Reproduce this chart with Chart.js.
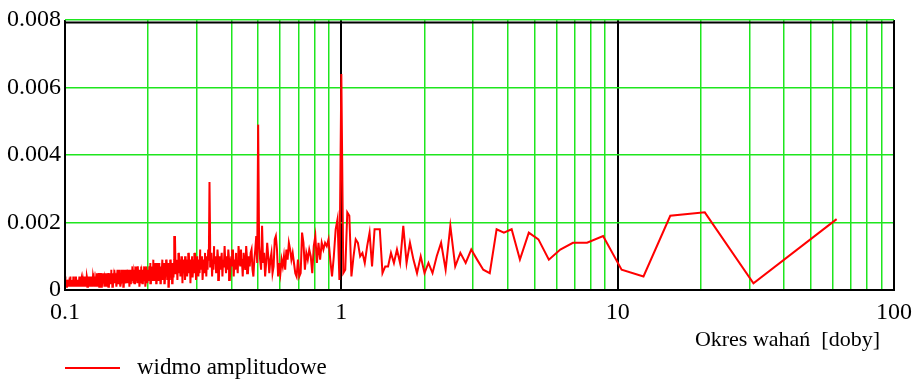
<!DOCTYPE html>
<html lang="pl">
<head>
<meta charset="utf-8">
<title>Widmo amplitudowe</title>
<script src="https://cdn.jsdelivr.net/npm/chart.js@4.4.1/dist/chart.umd.min.js"></script>
<style>
  html, body { margin: 0; padding: 0; background: #fff; }
  canvas { display: block; }
</style>
</head>
<body>
<canvas id="spectrum" width="920" height="380"></canvas>
<script>
// Length of the record in days; harmonic k has period RECORD_DAYS / k.
const RECORD_DAYS = 62;

// Amplitude of harmonics k = 1, 2, 3, ... in units of 1e-4.
const amplitudeE4 = [
  21, 2, 23, 22, 4, 6, 16, 14, 14, 12,
  9, 15, 17, 9, 18, 17, 18, 5, 6, 9,
  12, 8, 11, 7, 19, 6, 14, 10, 5, 8,
  5, 10, 5, 9, 14, 8, 19, 8, 12, 8,
  11, 7, 7, 5, 18, 18, 18, 7, 17, 13,
  8, 11, 10, 14, 15, 10, 4, 22, 23, 6,
  5, 64, 3, 21, 18, 10, 4, 9, 15, 13,
  14, 12, 14, 9, 14, 8, 16, 13, 5, 10,
  12, 9, 11, 6, 14, 17, 5, 4, 9, 4,
  5, 8, 11, 9, 12, 14, 9, 12, 6, 10,
  7, 9, 5, 8, 4, 12, 16, 15, 7, 5,
  11, 9, 5, 10, 14, 8, 4, 11, 8, 19,
  6, 9, 13, 49, 8, 16, 12, 9, 4, 6,
  12, 11, 7, 10, 5, 9, 13, 6, 8, 11,
  4, 9, 12, 7, 10, 13, 5, 8, 11, 6,
  9, 4, 12, 7, 10, 8, 3, 9, 12, 6,
  10, 5, 8, 13, 7, 9, 4, 11, 8, 6,
  10, 3, 9, 12, 7, 5, 10, 8, 13, 6,
  9, 4, 11, 7, 14, 32, 9, 12, 6, 10,
  4, 8, 11, 5, 9, 7, 3, 10, 6, 8,
  12, 5, 9, 4, 7, 10, 6, 3, 8, 11,
  5, 9, 7, 4, 10, 6, 8, 2, 9, 7,
  11, 5, 8, 4, 9, 6, 10, 3, 7, 9,
  5, 8, 2, 10, 6, 8, 4, 9, 7, 11,
  5, 8, 3, 7, 9, 5, 8, 16, 6, 9,
  4, 7, 2, 8, 5, 3, 9, 6, 4, 7,
  1, 8, 5, 6, 3, 9, 4, 7, 5, 2,
  8, 6, 4, 7, 3, 9, 5, 6, 2, 7,
  4, 8, 5, 3, 6, 8, 4, 7, 2, 6,
  5, 8, 3, 7, 4, 6, 9, 3, 5, 7,
  4, 6, 2, 8, 5, 4, 7, 3, 6, 5,
  4, 6, 2, 5, 7, 3, 5, 1, 6, 4,
  7, 3, 5, 2, 6, 4, 5, 7, 2, 4,
  6, 3, 5, 1, 6, 4, 3, 7, 5, 2,
  4, 6, 3, 5, 7, 2, 4, 5, 3, 6,
  2, 5, 4, 7, 3, 4, 6, 2, 5, 3,
  6, 4, 1, 5, 3, 6, 4, 2, 5, 6,
  3, 4, 3, 5, 2, 6, 4, 3, 5, 1,
  4, 6, 3, 2, 5, 4, 3, 6, 2, 4,
  5, 1, 3, 6, 4, 2, 5, 3, 4, 6,
  2, 3, 5, 4, 1, 3, 5, 2, 4, 6,
  3, 2, 4, 5, 3, 1, 4, 5, 2, 3,
  6, 4, 2, 3, 5, 4, 2, 3, 5, 1,
  4, 3, 5, 2, 3, 4, 2, 5, 3, 1,
  4, 3, 5, 2, 3, 4, 1, 3, 5, 2,
  4, 3, 2, 5, 3, 1, 4, 2, 3, 5,
  2, 4, 3, 1, 3, 4, 2, 5, 3, 2,
  4, 1, 3, 4, 2, 3, 5, 2, 3, 1,
  4, 3, 2, 4, 3, 1, 3, 5, 2, 3,
  4, 2, 1, 3, 4, 2, 2, 3, 1, 4,
  2, 3, 1, 3, 2, 4, 1, 2, 3, 2,
  4, 1, 3, 2, 1, 3, 4, 2, 1, 3,
  2, 4, 2, 1, 3, 2, 3, 1, 4, 2,
  3, 1, 2, 3, 2, 4, 1, 2, 3, 1,
  2, 4, 2, 3, 1, 2, 3, 2, 1, 3,
  4, 2, 1, 3, 2, 1, 3, 2, 2, 1,
  3, 2, 1, 3, 2, 4, 1, 2, 3, 1,
  2, 3, 2, 1, 3, 2, 4, 1, 2, 1,
  3, 2, 1, 3, 2, 1, 2, 3, 1, 2,
  3, 1, 2, 4, 2, 1, 3, 2, 1, 2,
  3, 1, 2, 1, 3, 2, 1, 2, 3, 1,
  2, 1, 3, 2, 1, 4, 2, 1, 3, 4
];

// Period grid lines (days); whole decades are drawn black and labelled.
const periodGrid = [
  0.1, 0.2, 0.3, 0.4, 0.5, 0.6, 0.7, 0.8, 0.9,
  1, 2, 3, 4, 5, 6, 7, 8, 9,
  10, 20, 30, 40, 50, 60, 70, 80, 90,
  100
];
const amplitudeTicks = [0, 0.002, 0.004, 0.006, 0.008];

const AXIS_TITLE = 'Okres wahań  [doby]';
const SERIES_LABEL = 'widmo amplitudowe';

const SERIF = '"Liberation Serif", "Times New Roman", serif';
const TICK_FONT = { family: SERIF, size: 24 };
const GRID_GREEN = '#1ee61e';
const LINE_RED = '#ff0000';

const isDecade = v => Math.abs(Math.log10(v) - Math.round(Math.log10(v))) < 1e-9;

const points = amplitudeE4.map((a, i) => ({ x: RECORD_DAYS / (i + 1), y: a / 1e4 }));

// Black frame plus the legend and axis caption under the plot.
const framePlugin = {
  id: 'frame',
  afterDatasetsDraw(chart) {
    const { ctx, chartArea: a } = chart;
    ctx.save();
    ctx.strokeStyle = '#000';
    ctx.lineWidth = 2;
    ctx.beginPath();
    ctx.moveTo(a.left, a.top + 2.5);
    ctx.lineTo(a.right, a.top + 2.5);
    ctx.lineTo(a.right, a.bottom);
    ctx.lineTo(a.left, a.bottom);
    ctx.closePath();
    ctx.stroke();
    ctx.restore();
  },
  afterDraw(chart) {
    const { ctx, chartArea: a } = chart;
    ctx.save();
    ctx.fillStyle = '#000';
    ctx.textBaseline = 'middle';
    ctx.font = `22px ${SERIF}`;
    ctx.textAlign = 'right';
    ctx.fillText(AXIS_TITLE, a.right - 14, 340);

    ctx.strokeStyle = LINE_RED;
    ctx.lineWidth = 2;
    ctx.beginPath();
    ctx.moveTo(a.left, 368);
    ctx.lineTo(a.left + 55, 368);
    ctx.stroke();
    ctx.font = `23px ${SERIF}`;
    ctx.textAlign = 'left';
    ctx.fillText(SERIES_LABEL, a.left + 72, 368);
    ctx.restore();
  }
};

new Chart(document.getElementById('spectrum'), {
  type: 'line',
  data: {
    datasets: [{
      label: SERIES_LABEL,
      data: points,
      borderColor: LINE_RED,
      borderWidth: 2,
      pointRadius: 0,
      tension: 0,
      fill: false
    }]
  },
  options: {
    responsive: false,
    animation: false,
    layout: { padding: { top: 20, right: 23, left: 0, bottom: 0 } },
    plugins: { legend: { display: false }, tooltip: { enabled: false } },
    scales: {
      x: {
        type: 'logarithmic',
        min: 0.1,
        max: 100,
        afterBuildTicks(scale) { scale.ticks = periodGrid.map(v => ({ value: v })); },
        afterFit(scale) { scale.height = 90; },
        border: { display: false },
        grid: {
          drawTicks: false,
          lineWidth: c => (c.tick && isDecade(c.tick.value) ? 2 : 1.5),
          color: c => (c.tick && isDecade(c.tick.value) ? '#000' : GRID_GREEN)
        },
        ticks: {
          autoSkip: false,
          maxRotation: 0,
          padding: 8,
          color: '#000',
          font: TICK_FONT,
          callback: v => (isDecade(v) ? String(v) : '')
        }
      },
      y: {
        min: 0,
        max: 0.008,
        afterBuildTicks(scale) { scale.ticks = amplitudeTicks.map(v => ({ value: v })); },
        afterFit(scale) { scale.width = 65; },
        border: { display: false },
        grid: {
          drawTicks: false,
          lineWidth: 1.5,
          color: c => (c.tick && c.tick.value === 0 ? 'rgba(0,0,0,0)' : GRID_GREEN)
        },
        ticks: {
          padding: 4,
          color: '#000',
          font: TICK_FONT,
          callback: v => (v === 0 ? '0' : v.toFixed(3))
        }
      }
    }
  },
  plugins: [framePlugin]
});
</script>
</body>
</html>
